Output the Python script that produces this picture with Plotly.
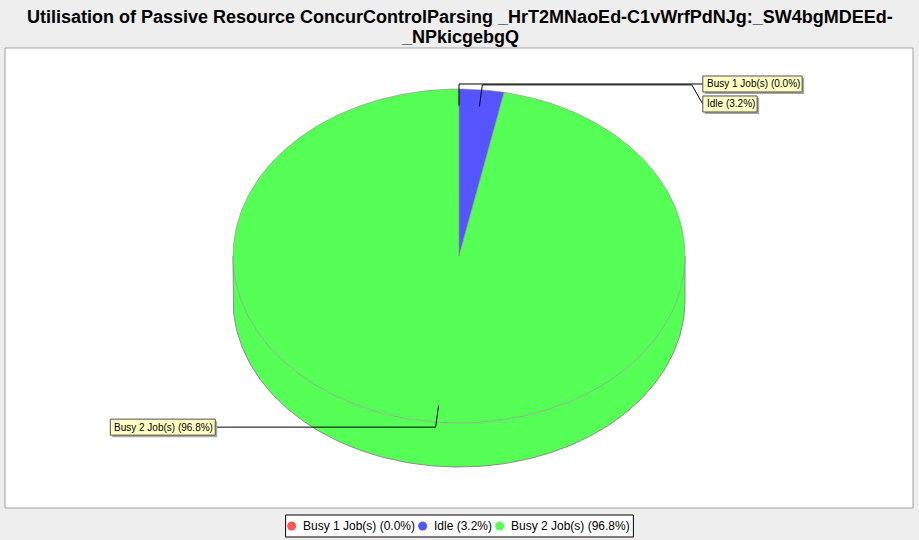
import numpy as np
import plotly.graph_objects as go

# ---------------- data ----------------
categories = ["Busy 1 Job(s)", "Idle", "Busy 2 Job(s)"]
values = [0.0, 3.2, 96.8]
colors = ["#FF5555", "#5555FF", "#55FF55"]
title_lines = [
    "Utilisation of Passive Resource ConcurControlParsing _HrT2MNaoEd-C1vWrfPdNJg:_SW4bgMDEEd-",
    "_NPkicgebgQ",
]

# ---------------- geometry / style ----------------
W, H = 919, 540
CX, CY, RX, RY, DEPTH = 459, 256, 226, 167, 44
START = 90.0  # degrees, clockwise
FONT = "Liberation Sans, Arial, sans-serif"
OUTLINE = "#8C8C8C"

total = sum(values)
labels = [f"{c} ({v / total * 100:.1f}%)" for c, v in zip(categories, values)]

# Arial / Liberation Sans advance widths (per 1000 em) for text measuring
_AW = {" ": 278, "(": 333, ")": 333, ".": 278, "%": 889, "B": 667, "J": 500, "I": 278,
       "u": 556, "s": 500, "y": 500, "o": 556, "b": 556, "d": 556, "l": 222, "e": 556}


def text_w(s, size):
    return sum(_AW.get(ch, 556) for ch in s) * size / 1000.0


def arc(a_from, a_to, k=1.0, dy=0.0, step=1.0):
    n = max(2, int(abs(a_to - a_from) / step) + 2)
    t = np.radians(np.linspace(a_from, a_to, n))
    return CX + k * RX * np.cos(t), CY - k * RY * np.sin(t) + dy


fig = go.Figure()

# slice angle bounds
bounds = []
a = START
for v in values:
    span = v / total * 360.0
    bounds.append((a, a - span))
    a -= span

# ---- side (depth) faces on the front half ----
for (a0, a1), col in zip(bounds, colors):
    if a0 == a1:
        continue
    for k in range(-3, 3):
        lo, hi = -180 + 360 * k, 0 + 360 * k
        s_hi, s_lo = min(a0, hi), max(a1, lo)
        if s_hi > s_lo:
            tx, ty = arc(s_hi, s_lo)
            bx, by = arc(s_lo, s_hi, dy=DEPTH)
            fig.add_trace(go.Scatter(
                x=np.concatenate([tx, bx, tx[:1]]), y=np.concatenate([ty, by, ty[:1]]),
                mode="lines", fill="toself", fillcolor=col,
                line=dict(width=0, color=col), hoverinfo="skip", showlegend=False))

# side outline: bottom arc + vertical edges
bx, by = arc(-180, 0, dy=DEPTH)
lx, ly = arc(-180, -180)
rx_, ry_ = arc(0, 0)
fig.add_trace(go.Scatter(
    x=np.concatenate([[lx[0]], bx, [rx_[0]]]), y=np.concatenate([[ly[0]], by, [ry_[0]]]),
    mode="lines", line=dict(color=OUTLINE, width=1), hoverinfo="skip", showlegend=False))

# ---- top faces ----
for (a0, a1), col in zip(bounds, colors):
    if a0 == a1:
        continue
    ax_, ay_ = arc(a0, a1)
    fig.add_trace(go.Scatter(
        x=np.concatenate([[CX], ax_, [CX]]), y=np.concatenate([[CY], ay_, [CY]]),
        mode="lines", fill="toself", fillcolor=col,
        line=dict(color=OUTLINE, width=0.6), hoverinfo="skip", showlegend=False))

# ---- labels with leader lines ----
items = []
for (a0, a1), lab in zip(bounds, labels):
    mid = (a0 + a1) / 2.0
    t = np.radians(mid)
    anchor = (CX + 0.9 * RX * np.cos(t), CY - 0.9 * RY * np.sin(t))
    elbow = (CX + 1.03 * RX * np.cos(t), CY - 1.03 * RY * np.sin(t))
    side = "right" if np.cos(t) >= -1e-9 else "left"
    items.append(dict(anchor=anchor, elbow=elbow, side=side, text=lab, ly=elbow[1]))

for side in ("right", "left"):
    grp = sorted([it for it in items if it["side"] == side], key=lambda d: d["ly"])
    prev = None
    for it in grp:
        if prev is not None and it["ly"] < prev + 20:
            it["ly"] = prev + 20
        prev = it["ly"]

LAB_SIZE = 10
BOX_H = 16
for it in items:
    sgn = 1 if it["side"] == "right" else -1
    edge_x = CX + sgn * 1.03 * RX
    lab_x = edge_x + sgn * 11
    xs = [it["anchor"][0], it["elbow"][0], edge_x, lab_x]
    ys = [it["anchor"][1], it["elbow"][1], it["elbow"][1], it["ly"]]
    fig.add_trace(go.Scatter(x=xs, y=ys, mode="lines", line=dict(color="black", width=1),
                             hoverinfo="skip", showlegend=False))
    bw = text_w(it["text"], LAB_SIZE) + 6
    bx0 = lab_x if sgn == 1 else lab_x - bw
    # shadow
    fig.add_shape(type="rect", x0=bx0 + 2, x1=bx0 + bw + 2, y0=it["ly"] - BOX_H / 2 + 2,
                  y1=it["ly"] + BOX_H / 2 + 2, xref="x", yref="y",
                  fillcolor="#A8A8A8", line=dict(width=0), layer="above")
    fig.add_shape(type="rect", x0=bx0, x1=bx0 + bw, y0=it["ly"] - BOX_H / 2,
                  y1=it["ly"] + BOX_H / 2, xref="x", yref="y",
                  fillcolor="#FFFFC4", line=dict(color="#505050", width=1), layer="above")
    fig.add_annotation(x=bx0 + 3, y=it["ly"], xref="x", yref="y", text=it["text"],
                       showarrow=False, xanchor="left", yanchor="middle",
                       font=dict(family=FONT, size=LAB_SIZE, color="black"), borderpad=0)

# ---- legend (circle markers + text), centred under the plot ----
LEG_SIZE = 12
LEG_Y = 526
widths = [text_w(s, LEG_SIZE) for s in labels]
PAD_L, SYM_TXT, TXT_SYM, PAD_R = 6, 10, 9, 5
inner = PAD_L + sum(SYM_TXT + w for w in widths) + TXT_SYM * (len(widths) - 1) + PAD_R
lx0 = W / 2 - inner / 2
fig.add_shape(type="rect", x0=lx0, x1=lx0 + inner, y0=LEG_Y - 11, y1=LEG_Y + 11,
              xref="x", yref="y", fillcolor="white", line=dict(color="black", width=1),
              layer="below")
cx_list = []
x = lx0 + PAD_L
for lab, w in zip(labels, widths):
    cx_list.append(x)
    fig.add_annotation(x=x + SYM_TXT, y=LEG_Y, xref="x", yref="y", text=lab, showarrow=False,
                       xanchor="left", yanchor="middle", borderpad=0,
                       font=dict(family=FONT, size=LEG_SIZE, color="black"))
    x += SYM_TXT + w + TXT_SYM
fig.add_trace(go.Scatter(x=cx_list, y=[LEG_Y] * len(cx_list), mode="markers",
                         marker=dict(symbol="circle", size=9, color=colors),
                         hoverinfo="skip", showlegend=False, cliponaxis=False))

# ---- title ----
for i, line in enumerate(title_lines):
    fig.add_annotation(x=W / 2, y=17 + 19.5 * i, xref="x", yref="y", text=f"<b>{line}</b>",
                       showarrow=False, xanchor="center", yanchor="middle",
                       font=dict(family=FONT, size=18, color="black"))

fig.add_shape(type="rect", x0=5, y0=48, x1=913, y1=508, xref="x", yref="y",
              fillcolor="white", line=dict(color="#A0A0A0", width=1), layer="below")

fig.update_layout(
    width=W, height=H, margin=dict(l=0, r=0, t=0, b=0),
    paper_bgcolor="#EEEEEE", plot_bgcolor="#EEEEEE",
    xaxis=dict(range=[0, W], visible=False, fixedrange=True),
    yaxis=dict(range=[H, 0], visible=False, fixedrange=True),
    showlegend=False,
)

fig.write_html("out.html")
